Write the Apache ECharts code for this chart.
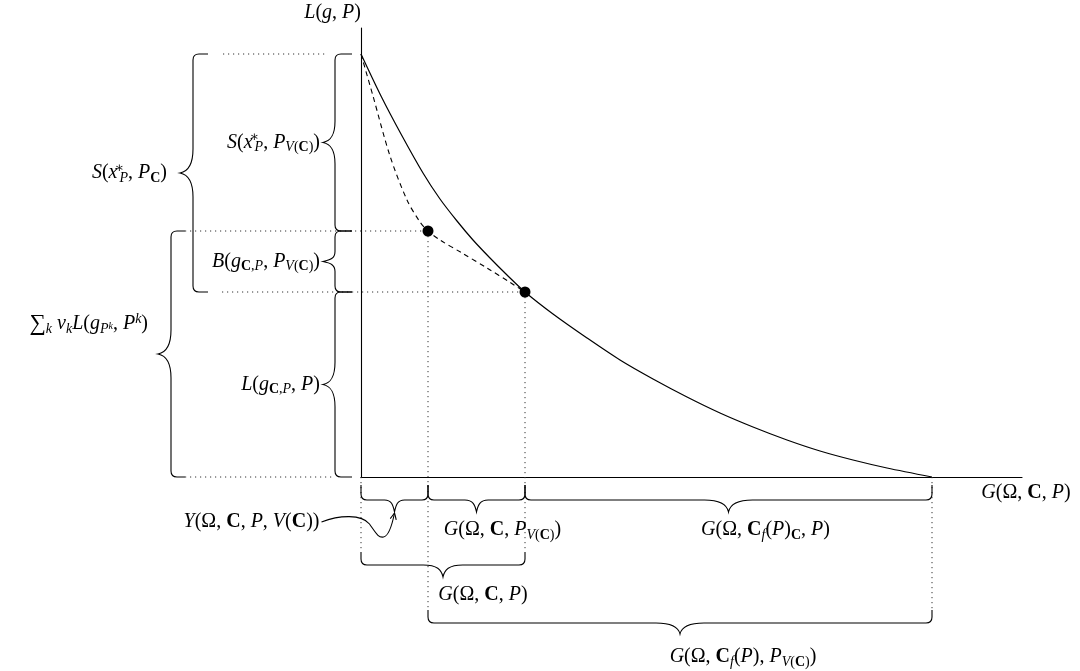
<!DOCTYPE html>
<html>
<head>
<meta charset="utf-8">
<title>L(g,P) versus G(Ω,C,P)</title>
<script src="https://cdn.jsdelivr.net/npm/echarts@6/dist/echarts.min.js"></script>
<style>
  html, body { margin: 0; padding: 0; background: #fff; }
  #chart { width: 1080px; height: 671px; }
</style>
</head>
<body>
<div id="chart"></div>
<script>
// ---- values ---------------------------------------------------------------
const xRange = [0, 661];
const yRange = [0, 449];

// L(g,P) along the generalization axis (solid) and the pooled estimate (dashed)
const solidCurve = [[0, 423], [20, 381], [40, 343], [62, 304], [79, 278], [96, 256], [112, 237],
  [129, 219], [146, 202], [164, 185], [192, 163], [226, 139], [259, 117], [292, 98], [326, 80],
  [359, 64], [392, 50], [426, 37], [459, 26], [492, 17], [526, 9], [571, 0]];
const dashedCurve = [[0, 423], [12, 381], [29, 321], [46, 277], [59, 255], [67, 246], [79, 237],
  [101, 224], [126, 209], [150, 194], [164, 185]];
const markedPoints = [[67, 246], [164, 185]];

// ---- text -----------------------------------------------------------------
const yAxisName = '{i|L}{r|(}{i|g}{r|, }{i|P}{r|)}';
const xAxisName = '{i|G}{r|(Ω, }{b|C}{r|, }{i|P}{r|)}';
const braceLabels = [
  '{i|S}{r|(}{i|x}{pz|∗}{si|P}{r|, }{i|P}{si|V}{sr|(}{sb|C}{sr|)}{r|)}',
  '{i|B}{r|(}{i|g}{sb|C}{sr|,}{si|P}{r|, }{i|P}{si|V}{sr|(}{sb|C}{sr|)}{r|)}',
  '{i|L}{r|(}{i|g}{sb|C}{sr|,}{si|P}{r|, }{i|P}{r|)}',
  '{i|S}{r|(}{i|x}{pz|∗}{si|P}{r|, }{i|P}{sb|C}{r|)}',
  '{big|∑}{si|k}{r| }{i|v}{si|k}{i|L}{r|(}{i|g}{si|P}{ss|k}{r|, }{i|P}{pi|k}{r|)}',
  '{i|Y}{r|(Ω, }{b|C}{r|, }{i|P}{r|, }{i|V}{r|(}{b|C}{r|))}',
  '{i|G}{r|(Ω, }{b|C}{r|, }{i|P}{si|V}{sr|(}{sb|C}{sr|)}{r|)}',
  '{i|G}{r|(Ω, }{b|C}{si|f}{r|(}{i|P}{r|)}{sb|C}{r|, }{i|P}{r|)}',
  '{i|G}{r|(Ω, }{b|C}{r|, }{i|P}{r|)}',
  '{i|G}{r|(Ω, }{b|C}{si|f}{r|(}{i|P}{r|), }{i|P}{si|V}{sr|(}{sb|C}{sr|)}{r|)}'
];

// ---- derived levels ---------------------------------------------------------
const lTop = solidCurve[0][1];
const gA = markedPoints[0][0], lA = markedPoints[0][1];
const gB = markedPoints[1][0], lB = markedPoints[1][1];
const gEnd = solidCurve[solidCurve.length - 1][0];

// brace spans along the axes, in the same order as braceLabels
const braceSpans = [
  ['y', lTop, lA], ['y', lA, lB], ['y', lB, 0], ['y', lTop, lB], ['y', lA, 0],
  ['x', 0, gA], ['x', gA, gB], ['x', gB, gEnd], ['x', 0, gB], ['x', gA, gEnd]
];

// ---- layout ---------------------------------------------------------------
const SERIF = "'Liberation Serif', 'DejaVu Serif', serif";
const FS = 20, SUB = 14;
const rich = {
  i:   { fontFamily: SERIF, fontStyle: 'italic', fontSize: FS, lineHeight: 24, color: '#000' },
  r:   { fontFamily: SERIF, fontSize: FS, lineHeight: 24, color: '#000' },
  big: { fontFamily: SERIF, fontSize: 23, lineHeight: 24, color: '#000' },
  b:   { fontFamily: SERIF, fontWeight: 'bold', fontSize: FS, lineHeight: 24, color: '#000' },
  si:  { fontFamily: SERIF, fontStyle: 'italic', fontSize: SUB, lineHeight: SUB, verticalAlign: 'bottom', color: '#000' },
  sr:  { fontFamily: SERIF, fontSize: SUB, lineHeight: SUB, verticalAlign: 'bottom', color: '#000' },
  sb:  { fontFamily: SERIF, fontWeight: 'bold', fontSize: SUB, lineHeight: SUB, verticalAlign: 'bottom', color: '#000' },
  pi:  { fontFamily: SERIF, fontStyle: 'italic', fontSize: SUB, lineHeight: SUB, verticalAlign: 'top', color: '#000' },
  pr:  { fontFamily: SERIF, fontSize: SUB, lineHeight: SUB, verticalAlign: 'top', color: '#000' },
  // superscript stacked over the following subscript
  pz:  { fontFamily: SERIF, fontSize: SUB, lineHeight: SUB, verticalAlign: 'top', width: 0.01, align: 'left',
         padding: [0, 0, 0, 2], color: '#000' },
  ss:  { fontFamily: SERIF, fontStyle: 'italic', fontSize: 10, lineHeight: 10, padding: [0, 0, 5, 0], verticalAlign: 'bottom', color: '#000' }
};

// lanes: distance of the brace ends from the axis, arm depth, tip depth
const lanes = {
  inner:  { off: 9,   h: 17, t: 12 },
  outer1: { off: 153, h: 15, t: 13 },
  outer2: { off: 176, h: 14, t: 13 },
  row1:   { off: 8,   h: 15, t: 12 },
  row2:   { off: 75,  h: 13, t: 12 },
  row3:   { off: 133, h: 13, t: 11 }
};
const braceLayout = [
  { lane: 'inner',  dx: -3,  dy: 0,   align: 'right' },
  { lane: 'inner',  dx: -3,  dy: 0,   align: 'right' },
  { lane: 'inner',  dx: -3,  dy: 0,   align: 'right' },
  { lane: 'outer1', dx: -13, dy: 0,   align: 'right' },
  { lane: 'outer2', dx: -10, dy: -30, align: 'right' },
  { lane: 'row1',   dx: -75, dy: 10,  align: 'right', arrow: true },
  { lane: 'row1',   dx: 26,  dy: 18,  align: 'center' },
  { lane: 'row1',   dx: 37,  dy: 18,  align: 'center' },
  { lane: 'row2',   dx: 40,  dy: 18,  align: 'center' },
  { lane: 'row3',   dx: 63,  dy: 23,  align: 'center' }
];

// curly brace between pixel points p1 and p2, bulging along unit normal n
function bracePath(p1, p2, n, h, t) {
  const dx = p2[0] - p1[0], dy = p2[1] - p1[1];
  const L = Math.hypot(dx, dy);
  const u = [dx / L, dy / L];
  const P = (a, b) => (p1[0] + u[0] * a + n[0] * b).toFixed(2) + ',' + (p1[1] + u[1] * a + n[1] * b).toFixed(2);
  const r = 6, m = L / 2, w = Math.max(10, Math.min(24, L * 0.12));
  return 'M' + P(0, 0) + 'L' + P(0, h - r) + 'Q' + P(0, h) + ' ' + P(r, h) +
    'L' + P(m - w, h) + 'C' + P(m - w * 0.3, h) + ' ' + P(m - 1.5, h + t * 0.4) + ' ' + P(m, h + t) +
    'C' + P(m + 1.5, h + t * 0.4) + ' ' + P(m + w * 0.3, h) + ' ' + P(m + w, h) +
    'L' + P(L - r, h) + 'Q' + P(L, h) + ' ' + P(L, h - r) + 'L' + P(L, 0);
}

function renderGuides(params, api) {
  const o = api.coord([0, 0]);
  const pA = api.coord(markedPoints[0]);
  const pB = api.coord(markedPoints[1]);
  const pTop = api.coord([0, lTop]);
  const pEnd = api.coord([gEnd, 0]);
  const segs = [
    [[o[0] - lanes.outer1.off + 15, pTop[1]], [o[0] - 34, pTop[1]]],
    [[o[0] - lanes.outer2.off, pA[1]], pA],
    [[o[0] - lanes.outer1.off + 14, pB[1]], pB],
    [[o[0] - lanes.outer2.off, o[1]], [o[0] - 26, o[1]]],
    [pA, [pA[0], o[1] + lanes.row3.off]],
    [pB, [pB[0], o[1] + lanes.row2.off]],
    [o, [o[0], o[1] + lanes.row2.off]],
    [pEnd, [pEnd[0], o[1] + lanes.row3.off]]
  ];
  return {
    type: 'group',
    children: segs.map(s => ({
      type: 'line',
      shape: { x1: s[0][0], y1: s[0][1], x2: s[1][0], y2: s[1][1] },
      style: { stroke: '#333', lineWidth: 1, lineDash: [1.2, 3.8] }
    }))
  };
}

function renderBraces(params, api) {
  const o = api.coord([0, 0]);
  const children = [];
  braceSpans.forEach((sp, k) => {
    const lay = braceLayout[k];
    const ln = lanes[lay.lane];
    let p1, p2, n;
    if (sp[0] === 'y') {
      const a = api.coord([0, sp[1]]), b = api.coord([0, sp[2]]);
      p1 = [o[0] - ln.off, a[1]]; p2 = [o[0] - ln.off, b[1]]; n = [-1, 0];
    } else {
      const a = api.coord([sp[1], 0]), b = api.coord([sp[2], 0]);
      p1 = [a[0], o[1] + ln.off]; p2 = [b[0], o[1] + ln.off]; n = [0, 1];
    }
    children.push({
      type: 'path',
      shape: { pathData: bracePath(p1, p2, n, ln.h, ln.t) },
      style: { stroke: '#000', fill: 'none', lineWidth: 1.1 }
    });
    const tip = [(p1[0] + p2[0]) / 2 + n[0] * (ln.h + ln.t), (p1[1] + p2[1]) / 2 + n[1] * (ln.h + ln.t)];
    children.push({
      type: 'text',
      x: tip[0] + lay.dx, y: tip[1] + lay.dy,
      style: { text: braceLabels[k], rich: rich, align: lay.align, verticalAlign: 'middle',
               fontFamily: SERIF, fontSize: FS, fill: '#000' }
    });
    if (lay.arrow) {
      const T = (a, b) => (tip[0] + a).toFixed(2) + ',' + (tip[1] + b).toFixed(2);
      const start = [lay.dx + 2, lay.dy];
      children.push({
        type: 'path',
        shape: { pathData: 'M' + T(start[0], start[1]) + 'C' + T(-55, 3) + ' ' + T(-33, 2) + ' ' + T(-25, 12) +
          'C' + T(-18, 22) + ' ' + T(-16, 26) + ' ' + T(-11, 25) + 'C' + T(-6, 24) + ' ' + T(-3, 16) + ' ' + T(0, 1) },
        style: { stroke: '#000', fill: 'none', lineWidth: 1.1 }
      });
      // arrow head pointing at the brace tip
      const d = [0.2, -0.98];
      const arm = (ang) => {
        const c = Math.cos(ang), s = Math.sin(ang);
        const bx = -d[0], by = -d[1];
        return [bx * c - by * s, bx * s + by * c];
      };
      [0.45, -0.45].forEach(ang => {
        const v = arm(ang);
        children.push({
          type: 'path',
          shape: { pathData: 'M' + T(0, 1) + 'Q' + T(v[0] * 4 + d[0] * 0.5, 1 + v[1] * 4) + ' ' + T(v[0] * 7, 1 + v[1] * 7) },
          style: { stroke: '#000', fill: 'none', lineWidth: 1.1 }
        });
      });
    }
  });
  return { type: 'group', children: children };
}

const chart = echarts.init(document.getElementById('chart'), null, { renderer: 'canvas' });
chart.setOption({
  animation: false,
  backgroundColor: '#fff',
  grid: { left: 361, right: 58, top: 28, bottom: 194 },
  xAxis: {
    type: 'value', min: xRange[0], max: xRange[1],
    axisLine: { lineStyle: { color: '#000', width: 1.1 } },
    axisTick: { show: false }, axisLabel: { show: false }, splitLine: { show: false },
    name: xAxisName, nameLocation: 'end', nameGap: 4,
    nameTextStyle: { align: 'center', verticalAlign: 'top', padding: [4, 0, 0, 0], rich: rich }
  },
  yAxis: {
    type: 'value', min: yRange[0], max: yRange[1],
    axisLine: { lineStyle: { color: '#000', width: 1.1 } },
    axisTick: { show: false }, axisLabel: { show: false }, splitLine: { show: false },
    name: yAxisName, nameLocation: 'end', nameGap: 15,
    nameTextStyle: { align: 'right', verticalAlign: 'middle', rich: rich }
  },
  series: [
    { type: 'custom', name: 'guides', renderItem: renderGuides, data: [[0, 0]], silent: true },
    {
      type: 'line', name: 'L(g,P)', data: solidCurve, smooth: 0.3,
      symbol: 'none', lineStyle: { color: '#000', width: 1.2 }
    },
    {
      type: 'line', name: 'pooled', data: dashedCurve, smooth: 0.3,
      symbol: 'none', lineStyle: { color: '#000', width: 1.1, type: [5, 4] }
    },
    {
      type: 'scatter', name: 'marked', data: markedPoints, symbol: 'circle', symbolSize: 11,
      itemStyle: { color: '#000', opacity: 1 }
    },
    { type: 'custom', name: 'braces', renderItem: renderBraces, data: [[0, 0]], silent: true }
  ]
});
</script>
</body>
</html>
